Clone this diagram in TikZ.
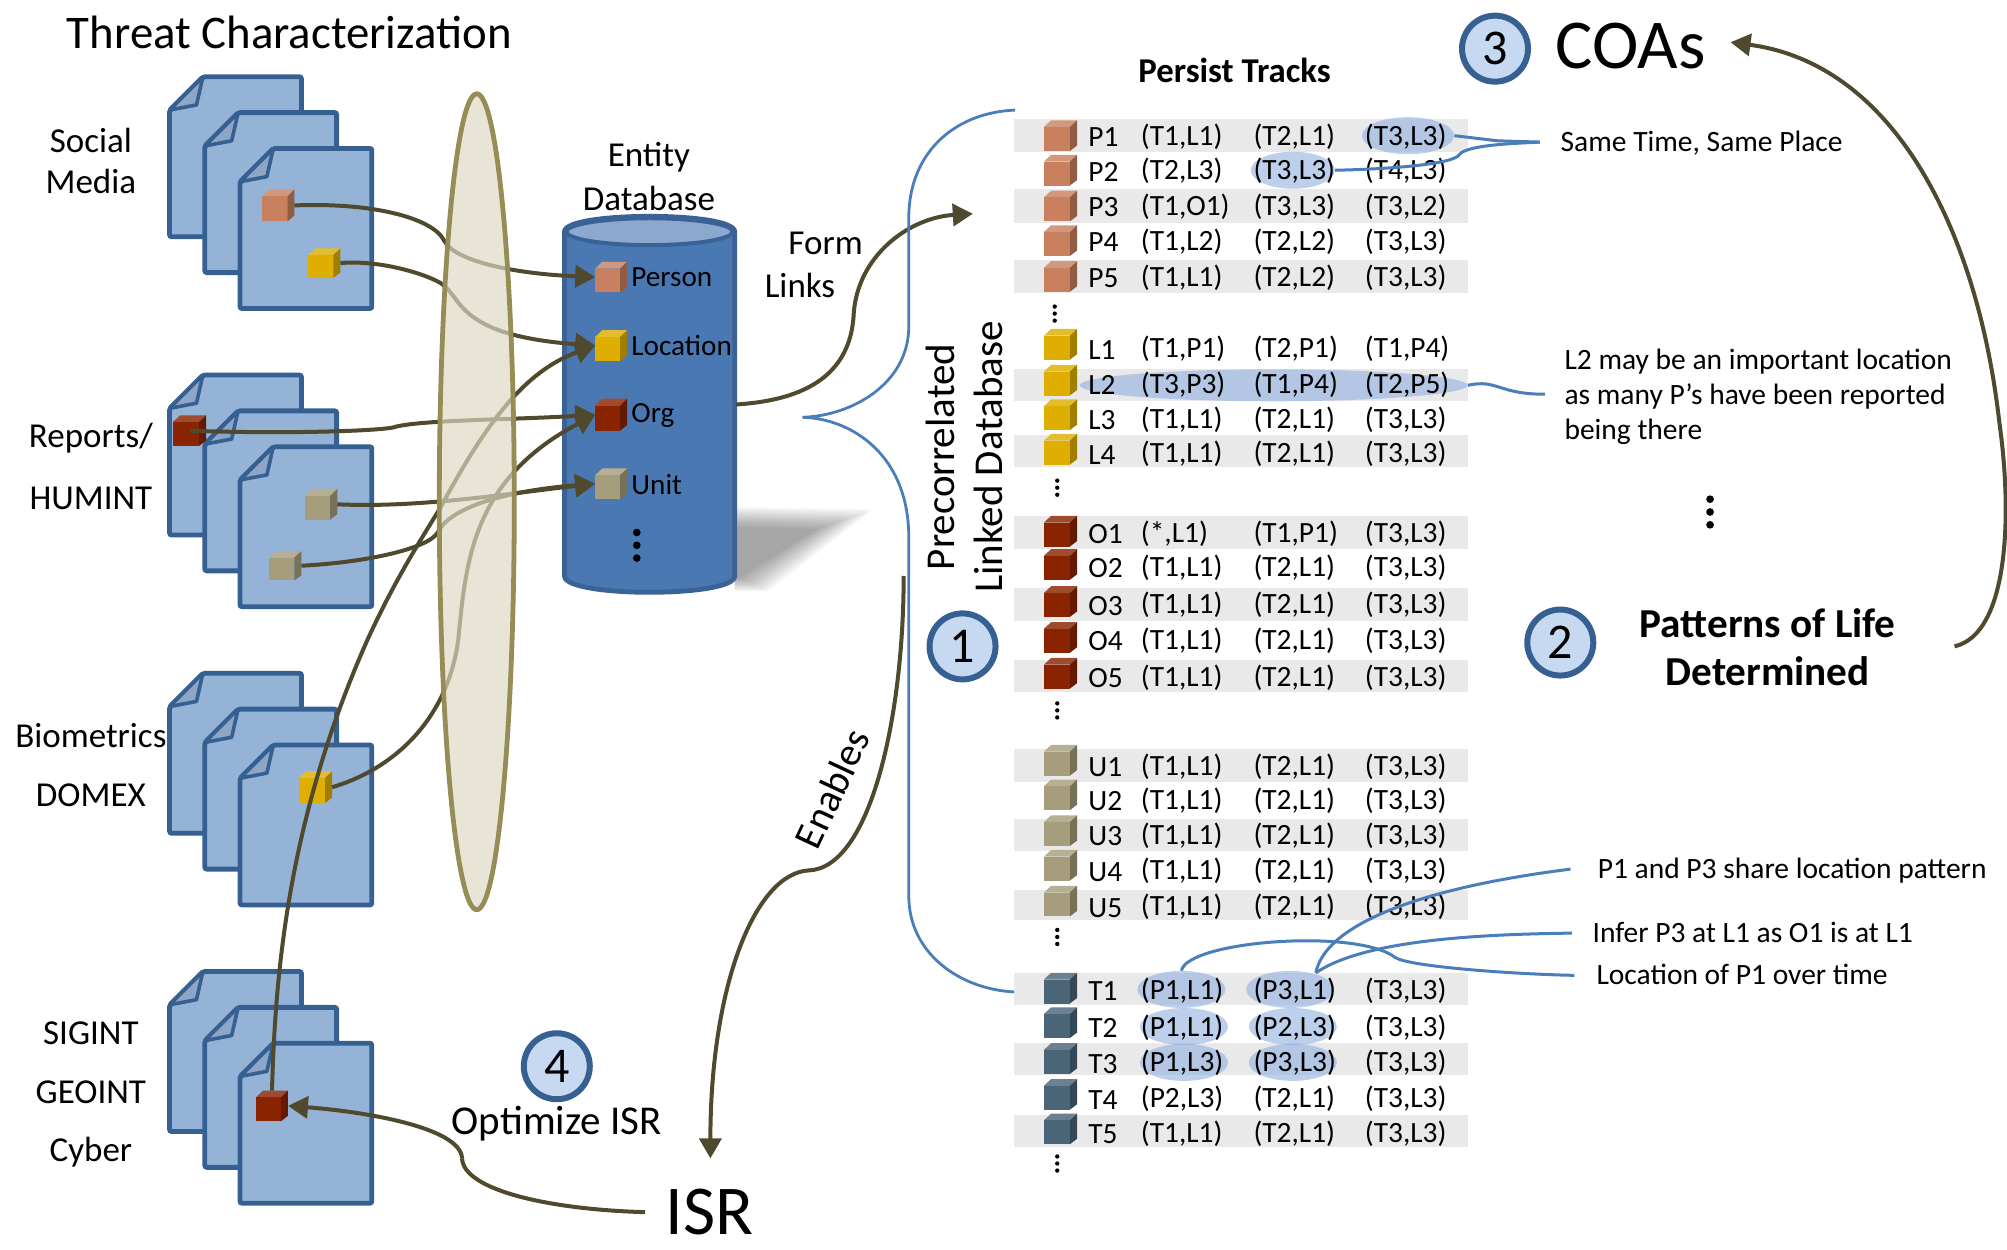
\documentclass[tikz,border=0pt]{standalone}
\usepackage{fontspec}
\setmainfont{Carlito}
\usetikzlibrary{arrows.meta,shapes.geometric}
\definecolor{pagefill}{HTML}{95B3D7}
\definecolor{pageline}{HTML}{376092}
\definecolor{foldfill}{HTML}{8DA5C6}
\definecolor{dbfill}{HTML}{4A78B2}
\definecolor{dbline}{HTML}{3A6297}
\definecolor{dbtop}{HTML}{8CA8CE}
\definecolor{conn}{HTML}{4F4A2E}
\definecolor{leader}{HTML}{4A7EBB}
\definecolor{bandc}{HTML}{E9E9E9}
\definecolor{hl}{HTML}{8FB0E0}
\definecolor{ellfill}{HTML}{DDD9C3}
\definecolor{ellline}{HTML}{968C55}
\definecolor{circf}{HTML}{C6D9F1}
\definecolor{cperson}{HTML}{C8805F}
\definecolor{cloc}{HTML}{DEAF00}
\definecolor{corg}{HTML}{8A2400}
\definecolor{cunit}{HTML}{A69D7C}
\definecolor{ctrack}{HTML}{4A6478}
\newcommand\fs[1]{\fontsize{#1}{#1}\selectfont}
\tikzset{
  x=0.64pt,y=-0.64pt,
  pagebox/.style={fill=pagefill,draw=pageline,line width=2.4pt,rounded corners=1pt},
  foldbox/.style={fill=foldfill,draw=pageline,line width=1.8pt,line join=round},
  link/.style={draw=conn,line width=2pt,-{Triangle[length=10pt,width=11pt]}},
  plainlink/.style={draw=conn,line width=2pt},
  leadline/.style={draw=leader,line width=1.5pt},
  brace/.style={draw=leader,line width=1.4pt},
  lab/.style={inner sep=0pt,font=\fs{17.5}},
  cell/.style={inner sep=0pt,anchor=base west,font=\fs{14.7}},
  note/.style={inner sep=0pt,anchor=base west,font=\fs{14.75}},
  dbl/.style={inner sep=0pt,anchor=base west,font=\fs{14.6}},
  numc/.style={circle,fill=circf,draw=pageline,line width=3pt,minimum size=33pt,inner sep=0pt,font=\fs{25}},
  hlspot/.style={ellipse,fill=hl,fill opacity=.6,inner sep=0pt,minimum height=18.5pt},
  cubemark/.style={inner sep=0pt,outer sep=0pt},
  bandbox/.style={fill=bandc},
}
\newcommand\docpage[2]{\begin{scope}[shift={(#1,#2)}]
  \path[pagebox] (26,0) -- (103,0) -- (103,125) -- (0,125) -- (0,26) -- cycle;
  \path[foldbox] (26,0) -- (21,22) -- (0,26) -- cycle;
\end{scope}}
\newcommand\docgroup[1]{\docpage{132.5}{#1}\docpage{160}{#1+28}\docpage{187.5}{#1+56}}
\newcommand\cube[6]{%
  \begin{scope}[shift={(#2,#3)},xscale=#4,yscale=#5]
    \fill[#6!82!white] (-.5,-.28) -- (-.28,-.5) -- (.5,-.5) -- (.28,-.28) -- cycle;
    \fill[#6!72!black] (.28,-.28) -- (.5,-.5) -- (.5,.32) -- (.28,.5) -- cycle;
    \fill[#6] (-.5,-.28) rectangle (.28,.5);
  \end{scope}
  \node[cubemark,minimum width=#4*0.64pt,minimum height=#5*0.64pt] (#1) at (#2,#3) {};}
\newcommand\band[2]{\fill[bandbox] (792,#1) rectangle (1147,#2);}
\newcommand\trow[8]{%
  \cube{#1-cube}{828.5}{#3}{26}{24}{#4}
  \node[cell] (#1-l) at (850,#2+8.5) {#5};
  \node[cell] (#1-a) at (891,#2+7.5) {#6};
  \node[cell] (#1-b) at (979,#2+7.5) {#7};
  \node[cell] (#1-c) at (1066,#2+7.5) {#8};}
\newcommand\vdotsm[2]{\foreach \d in {-5.5,0,5.5}{\fill[black] (#1,#2+\d) circle[radius=1.7];}}
\newcommand\vdotsb[2]{\foreach \d in {-10,0,10}{\fill[black] (#1,#2+\d) circle[radius=3];}}
\begin{document}
\begin{tikzpicture}
\useasboundingbox (0,0) rectangle (1568,975.8);
% titles
\node[inner sep=0pt,anchor=west,font=\fs{23.4}] (title) at (52,25) {Threat Characterization};
\node[inner sep=0pt,font=\bfseries\fs{17.4}] (persist) at (964.5,55) {Persist Tracks};
\node[inner sep=0pt,anchor=west,font=\fs{35}] (coas) at (1215,36) {COAs};
\node[inner sep=0pt,anchor=west,font=\fs{35}] (isr) at (520,947) {ISR};
% source labels
\node[lab] (s1) at (71,110) {Social};
\node[lab] (s2) at (71,142) {Media};
\node[lab] (s3) at (71,342.5) {Reports/};
\node[lab] (s4) at (71,389) {HUMINT};
\node[lab] (s5) at (71,575) {Biometrics};
\node[lab] (s6) at (71,621) {DOMEX};
\node[lab] (s7) at (71,807) {SIGINT};
\node[lab] (s8) at (71,853) {GEOINT};
\node[lab] (s9) at (71,900) {Cyber};
\node[lab] (e1) at (507,122.5) {Entity};
\node[lab] (e2) at (507,155) {Database};
\node[lab] (f1) at (645,190) {Form};
\node[lab] (f2) at (625,223) {Links};
% documents
\docgroup{60}
\docgroup{293}
\docgroup{526}
\docgroup{759}
% database
\foreach \k in {0,2,...,22}{
  \fill[black,opacity=.035] (574,396+\k*.7) -- (682-2*\k,398+\k*.7) -- (600-\k,462-\k*.5) -- (574,462-\k*.5) -- cycle;}
\path[fill=dbfill,draw=dbline,line width=2.4pt] (441,181) -- (441,450) .. controls (441,467) and (574,467) .. (574,450) -- (574,181) .. controls (574,165) and (441,165) .. (441,181) -- cycle;
\path[fill=dbtop,draw=dbline,line width=2pt] (507.5,181) ellipse[x radius=65,y radius=10.5];
\coordinate (dbright) at (575,316);
\cube{dbP}{477.5}{216.5}{25}{24}{cperson}
\cube{dbL}{477.5}{270}{25}{24}{cloc}
\cube{dbO}{477.5}{324}{25}{25}{corg}
\cube{dbU}{477.5}{378}{25}{24}{cunit}
\node[dbl] (tP) at (493,224) {Person};
\node[dbl] (tL) at (493,278) {Location};
\node[dbl] (tO) at (493,330) {Org};
\node[dbl] (tU) at (493,386) {Unit};
\vdotsb{497.5}{426}
% cubes on documents
\cube{docP}{217.5}{160.5}{25}{25}{cperson}
\cube{docL}{253.5}{205.5}{25}{23}{cloc}
\cube{docO}{148}{336.5}{26}{24}{corg}
\cube{docU}{251}{394}{25}{24}{cunit}
\cube{docV}{223}{442}{25}{23}{cunit}
\cube{docB}{246.5}{615}{26}{25}{cloc}
\cube{docS}{212.5}{864}{25}{24}{corg}
% connectors into the database
\draw[link] (docP.east) .. controls (290,158) and (338,170) .. (347,188) .. controls (356,205) and (405,214) .. (dbP.west);
\draw[link] (docL.east) .. controls (295,203) and (330,213) .. (344,221) .. controls (362,232) and (355,262) .. (dbL.west);
\draw[link] (docO.center) .. controls (220,339) and (290,337) .. (307,334) .. controls (325,328) and (400,328) .. (dbO.west);
\draw[link] (docU.east) .. controls (330,397) and (400,385) .. (dbU.west);
\draw[link] (docV.east) .. controls (290,439) and (335,428) .. (342,416) .. controls (352,395) and (400,383) .. (dbU.west);
\draw[link] (docB.east) .. controls (310,600) and (350,560) .. (358,500) .. controls (364,440) and (368,375) .. (dbO.west);
\draw[link] (docS.north) .. controls (215,760) and (225,640) .. (287,500) .. controls (310,450) and (330,420) .. (345,395) .. controls (380,330) and (410,290) .. (dbL.west);
% the thin ellipse lies over the connectors
\node[ellipse,draw=ellline,line width=2.4pt,fill=ellfill,fill opacity=.68,draw opacity=1,minimum width=37.5pt,minimum height=408pt,inner sep=0pt] (lens) at (372.5,392) {};
% other arrows
\coordinate (formend) at (760,167);
\draw[link] (dbright) .. controls (640,312) and (665,285) .. (667,245) .. controls (670,200) and (710,170) .. (formend);
\coordinate (enstart) at (706,450);
\coordinate (enmid) at (632,680);
\coordinate (isrin) at (555,905);
\draw[plainlink] (enstart) .. controls (706,560) and (680,678) .. (enmid);
\draw[link] (enmid) .. controls (590,682) and (555,770) .. (isrin);
\coordinate (isrout) at (504,947);
\coordinate (isrbend) at (361,905);
\draw[plainlink] (isrout) .. controls (430,945) and (362,930) .. (isrbend);
\draw[link] (isrbend) .. controls (360,880) and (280,868) .. (docS.east);
\coordinate (polend) at (1527,505);
\coordinate (coaend) at (1352,33);
\draw[link] (polend) .. controls (1570,495) and (1572,400) .. (1562,330) .. controls (1545,180) and (1480,50) .. (coaend);
% brace
\coordinate (bracetop) at (793,86);
\coordinate (bracetip) at (627,326);
\coordinate (bracebot) at (793,775);
\draw[brace] (bracetop) .. controls (745,88) and (710,120) .. (710,170) -- (710,255) .. controls (710,300) and (665,325) .. (bracetip) .. controls (665,327) and (710,355) .. (710,420) -- (710,700) .. controls (710,745) and (750,773) .. (bracebot);
% tables
\band{93}{119}\band{148}{174}\band{203}{229}
\band{288}{313}\band{340}{365}
\band{403}{429}\band{459}{485}\band{516}{541}
\band{585}{611}\band{640}{665}\band{695}{719}
\band{760}{785}\band{815}{840}\band{871}{896}
% highlights
\node[hlspot,minimum width=46pt] (hP1) at (1100,106) {};
\node[hlspot,minimum width=42pt] (hP2) at (1010,133) {};
\node[hlspot,minimum width=194pt,minimum height=16pt] (hL2) at (995,301) {};
\node[hlspot,minimum width=44pt] (hT1a) at (923,773) {};
\node[hlspot,minimum width=44pt] (hT1b) at (1008,773) {};
\node[hlspot,minimum width=44pt] (hT2a) at (925,802) {};
\node[hlspot,minimum width=44pt] (hT2b) at (1010,802) {};
\node[hlspot,minimum width=44pt] (hT3a) at (925,830) {};
\node[hlspot,minimum width=44pt] (hT3b) at (1010,830) {};
\trow{P1}{106}{106}{cperson}{P1}{(T1,L1)}{(T2,L1)}{(T3,L3)}
\trow{P2}{133}{133}{cperson}{P2}{(T2,L3)}{(T3,L3)}{(T4,L3)}
\trow{P3}{161}{161}{cperson}{P3}{(T1,O1)}{(T3,L3)}{(T3,L2)}
\trow{P4}{188}{188}{cperson}{P4}{(T1,L2)}{(T2,L2)}{(T3,L3)}
\trow{P5}{216}{216}{cperson}{P5}{(T1,L1)}{(T2,L2)}{(T3,L3)}
\trow{L1}{272}{269}{cloc}{L1}{(T1,P1)}{(T2,P1)}{(T1,P4)}
\trow{L2}{300}{297}{cloc}{L2}{(T3,P3)}{(T1,P4)}{(T2,P5)}
\trow{L3}{327}{324}{cloc}{L3}{(T1,L1)}{(T2,L1)}{(T3,L3)}
\trow{L4}{354}{351}{cloc}{L4}{(T1,L1)}{(T2,L1)}{(T3,L3)}
\trow{O1}{416}{415}{corg}{O1}{(*,L1)}{(T1,P1)}{(T3,L3)}
\trow{O2}{443}{441}{corg}{O2}{(T1,L1)}{(T2,L1)}{(T3,L3)}
\trow{O3}{472}{470}{corg}{O3}{(T1,L1)}{(T2,L1)}{(T3,L3)}
\trow{O4}{500}{498}{corg}{O4}{(T1,L1)}{(T2,L1)}{(T3,L3)}
\trow{O5}{529}{526}{corg}{O5}{(T1,L1)}{(T2,L1)}{(T3,L3)}
\trow{U1}{598}{594}{cunit}{U1}{(T1,L1)}{(T2,L1)}{(T3,L3)}
\trow{U2}{625}{621}{cunit}{U2}{(T1,L1)}{(T2,L1)}{(T3,L3)}
\trow{U3}{652}{649}{cunit}{U3}{(T1,L1)}{(T2,L1)}{(T3,L3)}
\trow{U4}{680}{676}{cunit}{U4}{(T1,L1)}{(T2,L1)}{(T3,L3)}
\trow{U5}{708}{704}{cunit}{U5}{(T1,L1)}{(T2,L1)}{(T3,L3)}
\trow{T1}{773}{772}{ctrack}{T1}{(P1,L1)}{(P3,L1)}{(T3,L3)}
\trow{T2}{802}{799}{ctrack}{T2}{(P1,L1)}{(P2,L3)}{(T3,L3)}
\trow{T3}{830}{827}{ctrack}{T3}{(P1,L3)}{(P3,L3)}{(T3,L3)}
\trow{T4}{858}{855}{ctrack}{T4}{(P2,L3)}{(T2,L1)}{(T3,L3)}
\trow{T5}{885}{882}{ctrack}{T5}{(T1,L1)}{(T2,L1)}{(T3,L3)}
\vdotsm{824}{245}
\vdotsm{826}{381}
\vdotsm{826}{555}
\vdotsm{826}{732}
\vdotsm{826}{909}
% side notes
\node[note] (n1) at (1219,118) {Same Time, Same Place};
\node[note] (n2) at (1222,289) {L2 may be an important location};
\node[note] at (1222,316) {as many P’s have been reported};
\node[note] at (1222,343) {being there};
\node[note] (n3) at (1248,686) {P1 and P3 share location pattern};
\node[note] (n4) at (1244,736) {Infer P3 at L1 as O1 is at L1};
\node[note] (n5) at (1247,769) {Location of P1 over time};
\coordinate (n1in) at (1203,111);
\coordinate (n2in) at (1207,308);
\coordinate (n3in) at (1227,679);
\coordinate (n4in) at (1228,729);
\coordinate (n5in) at (1230,762);
\coordinate (trk) at (1028,760);
\draw[leadline] (hP1.east) -- (1170,110) -- (n1in);
\draw[leadline] (hP2.east) .. controls (1090,132) and (1135,128) .. (1140,121) .. controls (1145,113) and (1185,112) .. (n1in);
\draw[leadline] (hL2.east) .. controls (1170,296) and (1170,308) .. (n2in);
\draw[leadline] (trk) .. controls (1035,725) and (1100,695) .. (n3in);
\draw[leadline] (trk) .. controls (1065,735) and (1150,730) .. (n4in);
\draw[leadline] (hT1a.north) .. controls (928,735) and (1060,725) .. (1090,748) .. controls (1100,755) and (1180,761) .. (n5in);
\vdotsb{1336}{400}
% big captions
\node[inner sep=0pt,font=\bfseries\fs{20.6}] (pol1) at (1381,487) {Patterns of Life};
\node[inner sep=0pt,font=\bfseries\fs{20.6}] (pol2) at (1381,524) {Determined};
\node[inner sep=0pt,rotate=90,font=\fs{20.5}] (pre1) at (735,357) {Precorrelated};
\node[inner sep=0pt,rotate=90,font=\fs{20.5}] (pre2) at (772,357) {Linked Database};
\node[inner sep=0pt,rotate=65,font=\fs{20}] (ena) at (650,616) {Enables};
\node[inner sep=0pt,font=\fs{20.5}] (opt) at (435,878) {Optimize ISR};
% numbered circles
\node[numc] (c1) at (752,505) {1};
\node[numc] (c2) at (1219,502) {2};
\node[numc] (c3) at (1168,38) {3};
\node[numc] (c4) at (435,833) {4};
\end{tikzpicture}
\end{document}
